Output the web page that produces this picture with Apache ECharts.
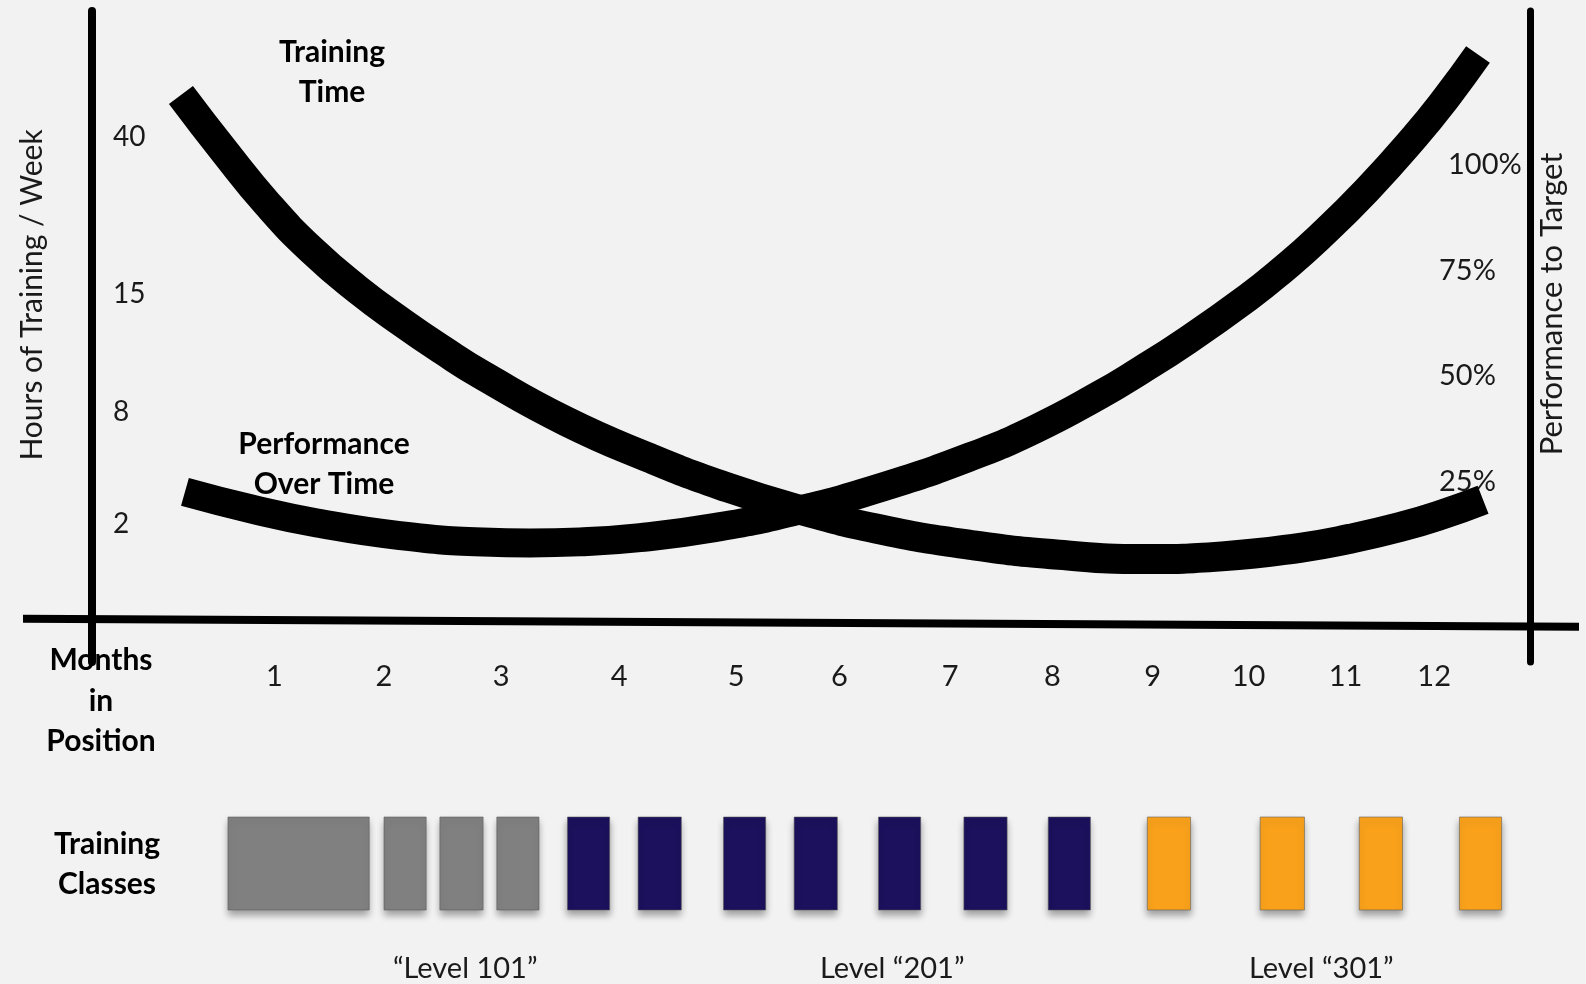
<!DOCTYPE html>
<html>
<head>
<meta charset="utf-8">
<script src="https://cdn.jsdelivr.net/npm/echarts@6/dist/echarts.min.js"></script>
<style>
  html, body { margin: 0; padding: 0; background: #f2f2f2; }
  #chart { width: 1586px; height: 984px; }
</style>
</head>
<body>
<div id="chart"></div>
<script>
// ---- Timeline: month labels and where each one sits (in months) ----
const monthLabels = ['1', '2', '3', '4', '5', '6', '7', '8', '9', '10', '11', '12'];
const monthTickAt = [1.00, 2.04, 3.15, 4.27, 5.38, 6.36, 7.41, 8.38, 9.33, 10.24, 11.16, 12.00];

// ---- Left axis: hours of training per week (placed on the shared level scale) ----
const hourLabels = ['40', '15', '8', '2'];
const hourTickAt = [106.5, 69.4, 41.5, 15.1];

// ---- Right axis: performance to target (%) ----
const perfTicks = [25, 50, 75, 100];

// ---- Curves: [month, level %] ----
const trainingTime = [
  [0.114, 116.38], [0.532, 102.88], [0.939, 90.49], [1.357, 79.67], [1.784, 70.54],
  [2.220, 62.51], [2.599, 56.09], [2.979, 50.14], [3.766, 39.35], [4.563, 30.62],
  [5.236, 24.24], [5.919, 18.89], [6.773, 13.67], [7.626, 10.06], [8.442, 7.81],
  [9.258, 6.80], [9.988, 7.44], [10.728, 9.47], [11.202, 11.59], [11.676, 14.35],
  [12.075, 17.33], [12.464, 20.82]
];
const performance = [
  [0.152, 22.66], [0.778, 18.65], [1.404, 15.34], [2.191, 12.35], [2.979, 10.84],
  [3.424, 10.62], [3.899, 10.86], [4.468, 11.85], [5.189, 14.28], [5.919, 18.01],
  [6.773, 23.84], [7.626, 31.19], [8.224, 37.58], [8.831, 45.59], [9.210, 51.25],
  [9.637, 58.05], [10.235, 68.60], [10.567, 75.21], [10.908, 82.74], [11.363, 93.96],
  [11.819, 106.59], [12.113, 115.65], [12.416, 125.92]
];

// ---- Baseline of the month axis (runs past both vertical axes) ----
const monthAxisLine = [[-1.384, -7.3], [13.374, -9.2]];

// ---- Training classes: start / end month and level index ----
const classStart = [0.56, 2.04, 2.57, 3.11, 3.78, 4.45, 5.26, 5.93, 6.73, 7.54, 8.34, 9.28, 10.35, 11.29, 12.24];
const classEnd   = [1.90, 2.44, 2.98, 3.51, 4.18, 4.86, 5.66, 6.34, 7.13, 7.95, 8.74, 9.69, 10.77, 11.70, 12.64];
const classLevel = [0, 0, 0, 0, 1, 1, 1, 1, 1, 1, 1, 2, 2, 2, 2];
const levelNames = ['\u201CLevel 101\u201D', 'Level \u201C201\u201D', 'Level \u201C301\u201D'];
const levelLabelAt = [2.81, 6.86, 10.93];
const levelColors = ['#808080', '#1b115c', '#f9a11b'];

const FONT = 'Lato, "Open Sans", sans-serif';
const X_MIN = -1.384, X_MAX = 13.374;
const Y_MIN = -17.5, Y_MAX = 136.2;

function nearestLabel(positions, labels, v) {
  let best = 0;
  for (let i = 1; i < positions.length; i++) {
    if (Math.abs(positions[i] - v) < Math.abs(positions[best] - v)) best = i;
  }
  return labels[best];
}

const classData = classStart.map((s, i) => [s, classEnd[i], classLevel[i]]);

const chart = echarts.init(document.getElementById('chart'), null, { renderer: 'canvas' });

const tickText = { fontSize: 29, color: '#1a1a1a', fontFamily: FONT };

chart.setOption({
  backgroundColor: '#f2f2f2',
  animation: false,
  textStyle: { fontFamily: FONT },
  grid: [
    { left: 23, right: 7, top: 11, height: 651 },
    { left: 23, right: 7, top: 817, height: 93 }
  ],
  xAxis: [
    {
      gridIndex: 0, type: 'value', min: X_MIN, max: X_MAX,
      axisLine: { show: false, onZero: false },
      axisTick: { show: false },
      splitLine: { show: false },
      axisLabel: Object.assign({
        customValues: monthTickAt,
        formatter: (v) => nearestLabel(monthTickAt, monthLabels, v),
        margin: 0
      }, tickText)
    },
    {
      gridIndex: 1, type: 'value', min: X_MIN, max: X_MAX,
      axisLine: { show: false, onZero: false },
      axisTick: { show: false },
      splitLine: { show: false },
      axisLabel: Object.assign({
        customValues: levelLabelAt,
        formatter: (v) => nearestLabel(levelLabelAt, levelNames, v),
        margin: 44
      }, tickText)
    }
  ],
  yAxis: [
    {
      gridIndex: 0, type: 'value', position: 'left', offset: -69, min: Y_MIN, max: Y_MAX,
      axisLine: { show: true, onZero: false, lineStyle: { color: '#000', width: 8 } },
      axisTick: { show: false },
      splitLine: { show: false },
      axisLabel: {
        inside: true, margin: 21,
        customValues: hourTickAt,
        formatter: (v) => nearestLabel(hourTickAt, hourLabels, v),
        fontSize: 28, color: '#1a1a1a', fontFamily: FONT
      }
    },
    {
      gridIndex: 0, type: 'value', position: 'right', offset: -49, min: Y_MIN, max: Y_MAX,
      axisLine: { show: true, onZero: false, lineStyle: { color: '#000', width: 7 } },
      axisTick: { show: false },
      splitLine: { show: false },
      axisLabel: Object.assign({
        inside: true, margin: 91, align: 'left',
        customValues: perfTicks,
        formatter: (v) => (v === 100 ? '{wide|100%}' : v + '%'),
        rich: { wide: { padding: [0, 0, 0, 9], fontSize: 29, color: '#1a1a1a', fontFamily: FONT } }
      }, tickText)
    },
    {
      gridIndex: 1, type: 'category', data: ['Training Classes'],
      show: false
    }
  ],
  series: [
    {
      name: 'Month axis', type: 'line', xAxisIndex: 0, yAxisIndex: 0,
      data: monthAxisLine, clip: false, symbol: 'none', silent: true,
      lineStyle: { color: '#000', width: 8, cap: 'butt' }
    },
    {
      name: 'Performance Over Time', type: 'line', xAxisIndex: 0, yAxisIndex: 0,
      data: performance, smooth: 0.5, symbol: 'none', clip: false,
      lineStyle: { color: '#000', width: 29, cap: 'butt', join: 'round' }
    },
    {
      name: 'Training Time', type: 'line', xAxisIndex: 0, yAxisIndex: 0,
      data: trainingTime, smooth: 0.5, symbol: 'none', clip: false,
      lineStyle: { color: '#000', width: 30, cap: 'butt', join: 'round' }
    },
    {
      name: 'Training Classes', type: 'custom', xAxisIndex: 1, yAxisIndex: 2,
      data: classData,
      encode: { x: [0, 1] },
      renderItem: function (params, api) {
        const s = api.coord([api.value(0), 0]);
        const e = api.coord([api.value(1), 0]);
        const h = api.size([0, 1])[1];
        return {
          type: 'rect',
          shape: { x: s[0], y: s[1] - h / 2, width: e[0] - s[0], height: h },
          style: {
            fill: levelColors[api.value(2)],
            stroke: 'rgba(90,90,90,0.55)',
            lineWidth: 1,
            shadowBlur: 7,
            shadowOffsetY: 5,
            shadowColor: 'rgba(0,0,0,0.35)'
          }
        };
      }
    }
  ],
  graphic: [
    {
      type: 'text', x: 332, y: 72,
      style: { text: 'Training\nTime', fontSize: 30, fontWeight: 'bold', fontFamily: FONT,
               fill: '#000', align: 'center', verticalAlign: 'middle', lineHeight: 40 }
    },
    {
      type: 'text', x: 324, y: 464,
      style: { text: 'Performance\nOver Time', fontSize: 30, fontWeight: 'bold', fontFamily: FONT,
               fill: '#000', align: 'center', verticalAlign: 'middle', lineHeight: 40 }
    },
    {
      type: 'text', x: 101, y: 701,
      style: { text: 'Months\nin\nPosition', fontSize: 30, fontWeight: 'bold', fontFamily: FONT,
               fill: '#000', align: 'center', verticalAlign: 'middle', lineHeight: 40.5 }
    },
    {
      type: 'text', x: 107, y: 864,
      style: { text: 'Training\nClasses', fontSize: 30, fontWeight: 'bold', fontFamily: FONT,
               fill: '#000', align: 'center', verticalAlign: 'middle', lineHeight: 40 }
    },
    {
      type: 'text', x: 32, y: 295, rotation: Math.PI / 2,
      style: { text: 'Hours of Training / Week', fontSize: 30, fontFamily: FONT,
               fill: '#1a1a1a', align: 'center', verticalAlign: 'middle' }
    },
    {
      type: 'text', x: 1552, y: 304, rotation: Math.PI / 2,
      style: { text: 'Performance to Target', fontSize: 31, fontFamily: FONT,
               fill: '#1a1a1a', align: 'center', verticalAlign: 'middle' }
    }
  ]
});
</script>
</body>
</html>
